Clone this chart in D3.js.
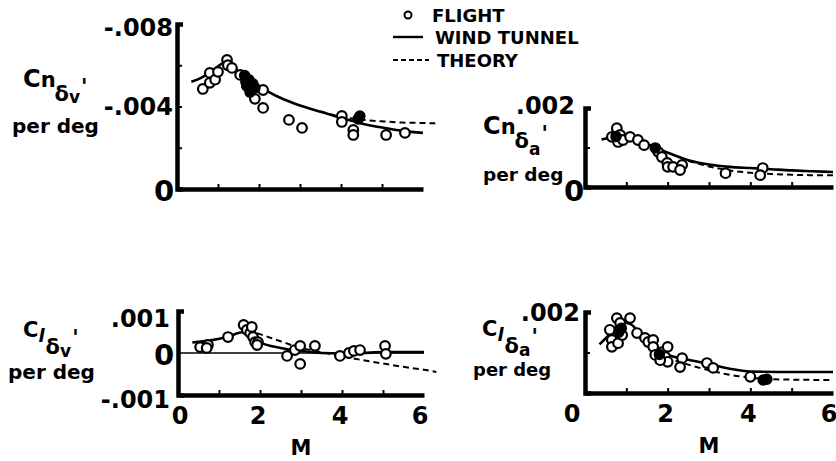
<!DOCTYPE html>
<html><head><meta charset="utf-8">
<script src="https://cdn.jsdelivr.net/npm/d3@7"></script>
<style>
body{margin:0;background:#fff}
svg{display:block}
text{font-family:"DejaVu Sans",sans-serif;font-weight:bold;fill:#000}
</style>
</head><body>
<svg id="c" width="836" height="461"></svg>
<script>
// ---------- DATA ----------
const machTicks = [0, 2, 4, 6];
const minorMach = [1, 2, 3, 4, 5];
const legendLabels = ["FLIGHT", "WIND TUNNEL", "THEORY"];

// Cn delta_v' (values negative, axis runs 0 -> -.008 upward)
const cnDvFlight = [[0.63,-0.00485],[0.8,-0.00515],[0.8,-0.00563],[0.93,-0.0053],[1.0,-0.00568],[1.22,-0.00626],[1.24,-0.006],[1.34,-0.00587],[1.54,-0.00553],[1.9,-0.00437],[2.1,-0.0048],[2.1,-0.00393],[2.73,-0.00335],[3.05,-0.00296],[4.02,-0.00354],[4.02,-0.00325],[4.3,-0.00286],[4.3,-0.00262],[5.1,-0.00262],[5.56,-0.00272]];
const cnDvFilled = [[1.65,-0.0055],[1.75,-0.0053],[1.85,-0.0051],[1.7,-0.005],[1.8,-0.0049],[1.9,-0.0049],[1.78,-0.0047],[1.68,-0.0052],[4.46,-0.00354],[4.42,-0.0034]];
const cnDvTunnel = [[0.35,-0.0052],[0.6,-0.0054],[0.9,-0.0058],[1.2,-0.00615],[1.5,-0.0057],[1.8,-0.00525],[2.2,-0.00475],[2.6,-0.00435],[3.0,-0.00405],[3.5,-0.00375],[4.0,-0.00345],[4.5,-0.00318],[5.0,-0.00298],[5.5,-0.00282],[6.0,-0.00272]];
const cnDvTheory = [[3.5,-0.00376],[4.0,-0.0035],[4.5,-0.00336],[5.0,-0.00328],[5.5,-0.00322],[6.0,-0.0032],[6.3,-0.00318]];
const cnDvYTicks = [-0.008, -0.004, 0];
const cnDvYMinor = [-0.006, -0.004, -0.002];

// Cn delta_a'
const cnDaFlight = [[0.65,0.00127],[0.77,0.00149],[0.85,0.00132],[0.8,0.00114],[0.92,0.00119],[1.09,0.00127],[1.28,0.00119],[1.43,0.00106],[1.77,0.00089],[1.86,0.00076],[1.99,0.00061],[2.0,0.00051],[2.13,0.00051],[2.35,0.00056],[2.3,0.00043],[3.4,0.00035],[4.3,0.00048],[4.24,0.0003]];
const cnDaFilled = [[1.7,0.00099],[0.75,0.00128]];
const cnDaTunnel = [[0.4,0.0012],[0.8,0.00127],[1.2,0.0012],[1.6,0.00105],[2.0,0.00087],[2.5,0.00068],[3.0,0.00057],[3.5,0.00051],[4.0,0.00048],[4.5,0.00045],[5.0,0.00042],[5.5,0.0004],[6.0,0.00038]];
const cnDaTheory = [[2.5,0.00066],[3.0,0.00052],[3.5,0.00042],[4.0,0.00036],[4.5,0.00033],[5.0,0.00031],[5.5,0.0003],[6.0,0.0003]];
const cnDaYTicks = [0.002, 0];
const cnDaYMinor = [0.001];

// Cl delta_v'
const clDvFlight = [[0.54,0.00014],[0.73,0.00019],[0.7,0.00012],[1.22,0.00038],[1.6,0.00067],[1.68,0.00055],[1.76,0.00048],[1.83,0.00038],[1.88,0.00026],[1.95,0.00026],[1.8,0.00062],[1.93,0.00019],[2.66,-0.00007],[2.85,0.00007],[2.98,0.00017],[2.98,-0.00026],[3.34,0.00017],[3.95,-0.00007],[4.17,0.0],[4.29,0.00005],[4.44,0.00007],[5.05,0.00017],[5.07,-0.00002]];
const clDvTunnel = [[0.35,0.00025],[0.8,0.0003],[1.2,0.00038],[1.6,0.0005],[1.8,0.00044],[2.0,0.00026],[2.5,0.00012],[3.0,0.00005],[3.5,0.0],[4.0,-0.00001],[4.5,0.0],[5.0,0.00002],[6.0,0.00002]];
const clDvTheory = [[1.7,0.00055],[2.0,0.00045],[2.5,0.00028],[3.0,0.00012],[3.5,0.00002],[4.0,-0.00008],[4.5,-0.00017],[5.0,-0.00025],[5.5,-0.00033],[6.0,-0.0004],[6.3,-0.00045]];
const clDvYTicks = [0.001, 0, -0.001];
const clDvYMinor = [];

// Cl delta_a'
const clDaFlight = [[0.6,0.00156],[0.65,0.00131],[0.65,0.00114],[0.8,0.00123],[0.77,0.00185],[0.85,0.00173],[0.9,0.00143],[1.09,0.00185],[1.26,0.00148],[1.45,0.00136],[1.53,0.00126],[1.65,0.00131],[1.65,0.00114],[1.7,0.00094],[1.86,0.00101],[1.94,0.00089],[2.0,0.00114],[2.0,0.00077],[1.82,0.00081],[2.35,0.00086],[2.3,0.00064],[2.95,0.00074],[3.1,0.00062],[4.0,0.0004]];
const clDaFilled = [[0.82,0.0015],[0.88,0.0016],[1.8,0.00095],[4.31,0.00032],[4.4,0.00034]];
const clDaTunnel = [[0.35,0.0012],[0.6,0.00145],[0.9,0.00175],[1.1,0.0017],[1.4,0.0014],[1.7,0.00115],[2.0,0.00095],[2.5,0.00082],[3.0,0.00072],[3.5,0.0006],[4.0,0.00053],[5.0,0.00052],[6.0,0.00052]];
const clDaTheory = [[1.4,0.00135],[1.7,0.00105],[2.0,0.00088],[2.5,0.0007],[3.0,0.00056],[3.5,0.00045],[4.0,0.00038],[4.5,0.00034],[5.0,0.00033],[6.0,0.00032]];
const clDaYTicks = [0.002];
const clDaYMinor = [0.001];

// ---------- DRAW ----------
const svg = d3.select("#c");
const fmt = v => v === 0 ? "0" : (v < 0 ? "-" : "") + d3.format(".3f")(Math.abs(v)).replace(/^0/, "");

function panel(cfg) {
  const x = d3.scaleLinear().domain([0, 6]).range(cfg.xr);
  const y = d3.scaleLinear().domain(cfg.yd).range(cfg.yr);
  const g = svg.append("g");
  const line = d3.line().x(d => x(d[0])).y(d => y(d[1])).curve(d3.curveMonotoneX);

  if (cfg.zeroLine) {
    g.append("line").attr("x1", x(0)).attr("x2", x(6)).attr("y1", y(0)).attr("y2", y(0))
      .attr("stroke", "#000").attr("stroke-width", 1.6);
  }
  g.append("path").datum(cfg.theory).attr("d", line).attr("fill", "none")
    .attr("stroke", "#000").attr("stroke-width", 2).attr("stroke-dasharray", "6,4");
  g.append("path").datum(cfg.tunnel).attr("d", line).attr("fill", "none")
    .attr("stroke", "#000").attr("stroke-width", 2.6);

  g.selectAll("circle.f").data(cfg.flight).join("circle")
    .attr("cx", d => x(d[0])).attr("cy", d => y(d[1])).attr("r", 4.8)
    .attr("fill", "#fff").attr("stroke", "#000").attr("stroke-width", 2.2);
  g.selectAll("circle.k").data(cfg.filled).join("circle")
    .attr("cx", d => x(d[0])).attr("cy", d => y(d[1])).attr("r", 5)
    .attr("fill", "#000").attr("stroke", "#000").attr("stroke-width", 1.5);

  // bottom axis
  const y0 = cfg.yr[0];
  g.append("g").attr("transform", `translate(0,${y0})`)
    .call(d3.axisBottom(x).tickValues(minorMach).tickSize(-5).tickSizeOuter(0).tickFormat(""))
    .call(s => s.select(".domain").attr("stroke-width", 4.5))
    .call(s => s.selectAll(".tick line").attr("stroke-width", 2));
  // left axis
  g.append("g").attr("transform", `translate(${x(0)},0)`)
    .call(d3.axisLeft(y).tickValues(cfg.yMinor).tickSize(-5).tickSizeOuter(-6).tickFormat(""))
    .call(s => s.select(".domain").attr("stroke-width", 4.5).attr("fill", "none"))
    .call(s => s.selectAll(".tick line").attr("stroke-width", 2));

  // y tick labels
  cfg.yTicks.forEach(v => {
    const isZero = v === 0;
    g.append("text")
      .attr("x", x(0) + (isZero ? cfg.zeroDx : cfg.labDx))
      .attr("y", y(v) + (isZero ? cfg.zeroDy : (cfg.labDy[v] || 0)))
      .attr("text-anchor", isZero ? "middle" : "end")
      .attr("dominant-baseline", "central")
      .style("font-size", isZero ? "29px" : "24px")
      .text(fmt(v));
  });

  // x tick labels
  if (cfg.xLabels) {
    machTicks.forEach(v => {
      g.append("text")
        .attr("x", x(v) + (v === 0 ? cfg.x0Dx : (v === 6 ? -4 : -2)))
        .attr("y", y0 + 21)
        .attr("text-anchor", "middle").attr("dominant-baseline", "central")
        .style("font-size", "24px").text(v);
    });
    g.append("text").attr("x", x(3)).attr("y", y0 + 53)
      .attr("text-anchor", "middle").attr("dominant-baseline", "central")
      .style("font-size", "21px").text("M");
  }

  // axis title
  const t = g.append("text").attr("x", cfg.title.x).attr("y", cfg.title.y);
  if (cfg.title.kind === "n") {
    t.append("tspan").style("font-size", "24px").text("C");
    t.append("tspan").style("font-size", "21px").text("n");
    t.append("tspan").style("font-size", "21px").attr("dy", 14).attr("dx", -1).text("δ");
    t.append("tspan").style("font-size", "17px").attr("dy", cfg.title.subDy).text(cfg.title.sub);
    t.append("tspan").style("font-size", "21px").attr("dy", -(14 + cfg.title.subDy) + 7).attr("dx", 1).text("'");
  } else {
    t.append("tspan").style("font-size", "21px").text("C");
    t.append("tspan").style("font-size", "18px").style("font-style", "italic").attr("dy", 5).text("l");
    t.append("tspan").style("font-size", "21px").attr("dy", 12).attr("dx", 1).text("δ");
    t.append("tspan").style("font-size", "17px").attr("dy", cfg.title.subDy).text(cfg.title.sub);
    t.append("tspan").style("font-size", "21px").attr("dy", -(17 + cfg.title.subDy) + 8).attr("dx", 1).text("'");
  }
  g.append("text").attr("x", cfg.per.x).attr("y", cfg.per.y)
    .style("font-size", cfg.per.fs).text("per deg");
}

panel({
  xr: [177, 423], yd: [0, -0.008], yr: [189, 24],
  flight: cnDvFlight, filled: cnDvFilled, tunnel: cnDvTunnel, theory: cnDvTheory,
  yTicks: cnDvYTicks, yMinor: cnDvYMinor, labDx: -4, labDy: {"-0.008": 4}, zeroDx: -13, zeroDy: 2,
  xLabels: false,
  title: {kind: "n", x: 23, y: 87, sub: "v", subDy: 2}, per: {x: 12, y: 133, fs: "20px"}
});
panel({
  xr: [585, 833], yd: [0, 0.002], yr: [187, 108],
  flight: cnDaFlight, filled: cnDaFilled, tunnel: cnDaTunnel, theory: cnDaTheory,
  yTicks: cnDaYTicks, yMinor: cnDaYMinor, labDx: -10, labDy: {"0.002": -2}, zeroDx: -11, zeroDy: 4,
  xLabels: false,
  title: {kind: "n", x: 483, y: 134, sub: "a", subDy: 7}, per: {x: 483, y: 181, fs: "18.5px"}
});
panel({
  xr: [178, 424], yd: [-0.001, 0.001], yr: [395, 311],
  flight: clDvFlight, filled: [], tunnel: clDvTunnel, theory: clDvTheory, zeroLine: true,
  yTicks: clDvYTicks, yMinor: clDvYMinor, labDx: -8, labDy: {"0.001": 8, "-0.001": 5}, zeroDx: -14, zeroDy: 2,
  xLabels: true, x0Dx: 2,
  title: {kind: "l", x: 23, y: 337, sub: "v", subDy: 3}, per: {x: 8, y: 379, fs: "20px"}
});
panel({
  xr: [585, 833], yd: [0, 0.002], yr: [393, 312],
  flight: clDaFlight, filled: clDaFilled, tunnel: clDaTunnel, theory: clDaTheory,
  yTicks: clDaYTicks, yMinor: clDaYMinor, labDx: -5, labDy: {"0.002": 1}, zeroDx: 0, zeroDy: 0,
  xLabels: true, x0Dx: -13,
  title: {kind: "l", x: 482, y: 336, sub: "a", subDy: 3}, per: {x: 473, y: 376, fs: "18px"}
});

// legend
const lg = svg.append("g");
const legY = [15, 37, 60];
lg.append("circle").attr("cx", 408).attr("cy", legY[0]).attr("r", 3.5)
  .attr("fill", "#fff").attr("stroke", "#000").attr("stroke-width", 2);
lg.append("line").attr("x1", 393).attr("x2", 423).attr("y1", legY[1]).attr("y2", legY[1])
  .attr("stroke", "#000").attr("stroke-width", 2.4);
lg.append("line").attr("x1", 393).attr("x2", 429).attr("y1", legY[2]).attr("y2", legY[2])
  .attr("stroke", "#000").attr("stroke-width", 2).attr("stroke-dasharray", "5,3");
const legX = [432, 435, 437];
legendLabels.forEach((s, i) => {
  lg.append("text").attr("x", legX[i]).attr("y", legY[i]).attr("dominant-baseline", "central")
    .style("font-size", "18px").text(s);
});
</script>
</body></html>
